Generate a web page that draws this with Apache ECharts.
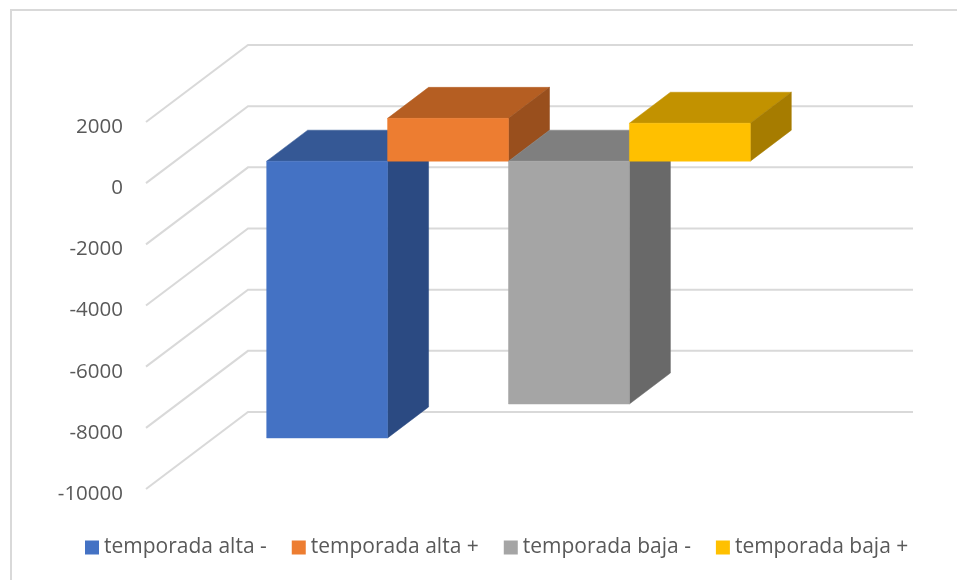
<!DOCTYPE html>
<html>
<head>
<meta charset="utf-8">
<style>
  html, body { margin: 0; padding: 0; background: #fff; }
  #chart { width: 957px; height: 580px; }
</style>
<script src="https://cdn.jsdelivr.net/npm/echarts@6/dist/echarts.min.js"></script>
</head>
<body>
<div id="chart"></div>
<script>
var categories = ['temporada'];
var seriesNames = ['temporada alta -', 'temporada alta +', 'temporada baja -', 'temporada baja +'];
var seriesValues = [-9050, 1400, -7940, 1240];
var yTicks = [2000, 0, -2000, -4000, -6000, -8000, -10000];

// front, top, side colour of each bar
var faceColors = [
  ['#4472C4', '#355895', '#2B4A82'],
  ['#ED7D31', '#B55E22', '#994F1D'],
  ['#A5A5A5', '#7F7F7F', '#696969'],
  ['#FFC000', '#C29200', '#A67C00']
];

var textColor = '#595959';
var fontName = 'Open Sans';
var wallDx = 102, wallDy = 77, wallRight = 913;
var barDx = 30, barDy = 22, depthDx = 41, depthDy = 31;
var gapBars = 1.5;

var chart = echarts.init(document.getElementById('chart'));

function poly(points, color) {
  return {
    type: 'polygon',
    shape: { points: points },
    style: { fill: color, stroke: color, lineWidth: 0.5 }
  };
}

function renderWall(params, api) {
  var p = api.coord([0, api.value(1)]);
  var left = p[0] - api.size([1, 0])[0] / 2;
  return {
    type: 'polyline',
    shape: { points: [[left, p[1]], [left + wallDx, p[1] - wallDy], [wallRight, p[1] - wallDy]] },
    style: { fill: 'none', stroke: '#D9D9D9', lineWidth: 2 }
  };
}

function makeBarRender(index) {
  return function (params, api) {
    var band = api.size([1, 0])[0];
    var zero = api.coord([0, 0]);
    var end = api.coord([0, api.value(1)]);
    var w = band / (seriesValues.length + gapBars);
    var x0 = zero[0] - band / 2 + (gapBars / 2 + index) * w + barDx;
    var x1 = x0 + w;
    var yZero = zero[1] - barDy;
    var yEnd = end[1] - barDy;
    var yTop = Math.min(yZero, yEnd);
    var yBottom = Math.max(yZero, yEnd);
    var c = faceColors[index];
    return {
      type: 'group',
      children: [
        poly([[x0, yTop], [x1, yTop], [x1 + depthDx, yTop - depthDy], [x0 + depthDx, yTop - depthDy]], c[1]),
        poly([[x1, yTop], [x1 + depthDx, yTop - depthDy], [x1 + depthDx, yBottom - depthDy], [x1, yBottom]], c[2]),
        poly([[x0, yTop], [x1, yTop], [x1, yBottom], [x0, yBottom]], c[0])
      ]
    };
  };
}

var series = [{
  type: 'custom',
  name: 'wall',
  silent: true,
  clip: false,
  renderItem: renderWall,
  data: yTicks.map(function (t) { return [0, t]; })
}];

seriesNames.forEach(function (name, i) {
  series.push({
    type: 'custom',
    name: name,
    clip: false,
    renderItem: makeBarRender(i),
    itemStyle: { color: faceColors[i][0] },
    data: [[0, seriesValues[i]]]
  });
});

var option = {
  animation: false,
  backgroundColor: '#fff',
  textStyle: { fontFamily: fontName },
  graphic: [{
    type: 'rect',
    shape: { x: 11, y: 10, width: 960, height: 580 },
    style: { fill: 'none', stroke: '#D9D9D9', lineWidth: 2 },
    silent: true
  }],
  grid: { left: 146, top: 122, width: 665, height: 367 },
  legend: {
    data: seriesNames,
    left: 80,
    top: 532,
    icon: 'rect',
    itemWidth: 14,
    itemHeight: 14,
    itemGap: 25,
    textStyle: { color: textColor, fontSize: 21, fontFamily: fontName }
  },
  xAxis: {
    type: 'category',
    data: categories,
    axisLine: { show: false },
    axisTick: { show: false },
    axisLabel: { show: false },
    splitLine: { show: false }
  },
  yAxis: {
    type: 'value',
    min: -10000,
    max: 2000,
    interval: 2000,
    axisLine: { show: false },
    axisTick: { show: false },
    splitLine: { show: false },
    axisLabel: {
      color: textColor,
      fontSize: 20.5,
      margin: 23,
      verticalAlign: 'top',
      lineHeight: 10,
      fontFamily: fontName,
      formatter: function (v) { return String(v); }
    }
  },
  series: series
};

chart.setOption(option);
</script>
</body>
</html>
